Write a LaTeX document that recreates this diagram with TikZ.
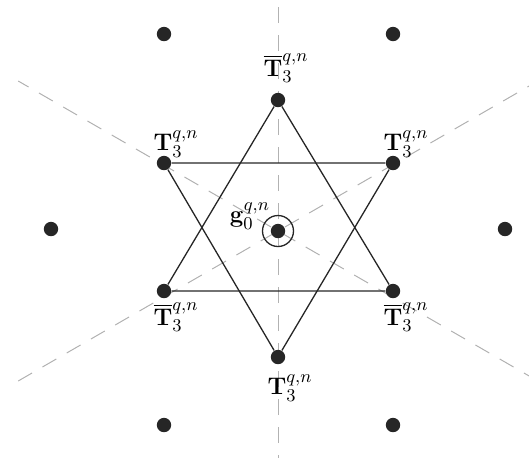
\documentclass[tikz,border=0pt]{standalone}
\usepackage{amsmath}
\begin{document}
\begin{tikzpicture}[x=0.5pt,y=0.5pt,
  site/.style={circle,fill=black!85,inner sep=0pt,minimum size=7.2pt},
  axis/.style={draw=black!30,dash pattern=on 8pt off 6pt,line width=0.5pt},
  edge/.style={draw=black!85,line width=0.65pt},
  lab/.style={font=\fontsize{12.5}{14}\selectfont,inner sep=1pt}]
\useasboundingbox (-278,-226) rectangle (251,231);
\begin{scope}
\clip (-278,-226) rectangle (251,231);
\coordinate (c) at (0,0);
\coordinate (v1) at (90:240); \coordinate (v2) at (270:240);
\coordinate (a1) at (150:300); \coordinate (a2) at (330:300);
\coordinate (b1) at (30:300); \coordinate (b2) at (210:300);
\draw[axis] (v2) -- (v1);
\draw[axis] (a2) -- (a1);
\draw[axis] (b2) -- (b1);
\end{scope}
% inner hexagon
\node[site] (t) at (0,131) {};
\node[site] (ul) at (-114,68) {};
\node[site] (ur) at (115,68) {};
\node[site] (ll) at (-114,-60) {};
\node[site] (lr) at (115,-60) {};
\node[site] (b) at (0,-126) {};
% outer points
\node[site] (o1) at (-114,197) {};
\node[site] (o2) at (115,197) {};
\node[site] (o3) at (-227,2) {};
\node[site] (o4) at (227,2) {};
\node[site] (o5) at (-114,-194) {};
\node[site] (o6) at (115,-194) {};
% center
\node[site] (g) at (0,0) {};
\node[circle,draw=black!85,line width=0.65pt,minimum size=15.5pt,inner sep=0pt] (gc) at (g) {};
\draw[edge] (t) -- (ll) -- (lr) -- (t);
\draw[edge] (b) -- (ul) -- (ur) -- (b);
% labels
\node[lab] (lt) at (8,163) {$\overline{\mathbf{T}}_3^{q,n}$};
\node[lab] (lul) at (-102,87) {$\mathbf{T}_3^{q,n}$};
\node[lab] (lur) at (128,87) {$\mathbf{T}_3^{q,n}$};
\node[lab] (lll) at (-102,-86) {$\overline{\mathbf{T}}_3^{q,n}$};
\node[lab] (llr) at (128,-86) {$\overline{\mathbf{T}}_3^{q,n}$};
\node[lab] (lb) at (12,-157) {$\mathbf{T}_3^{q,n}$};
\node[lab] (lg) at (-28,15) {$\mathbf{g}_0^{q,n}$};
\end{tikzpicture}
\end{document}
